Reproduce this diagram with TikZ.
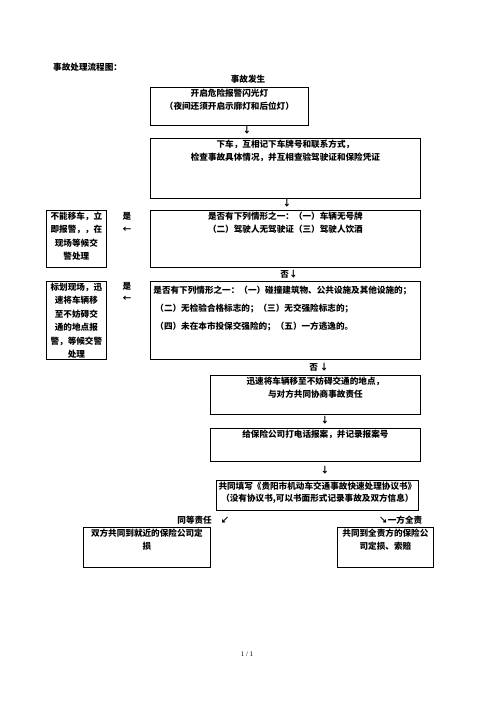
\documentclass[tikz,border=0pt]{standalone}
\usepackage{fontspec}
\setmainfont{Noto Sans CJK SC}
\newfontfamily\pagefont{Liberation Serif}
\usetikzlibrary{positioning}
\newcommand{\boxtext}[3]{\parbox[t][#2][t]{#1}{\centering\vspace*{1.5pt}#3}}
\newcommand{\boxleft}[3]{\parbox[t][#2][t]{#1}{\raggedright\vspace*{4.5pt}#3}}

\begin{document}
\begin{tikzpicture}[
  x=1pt, y=-1pt,
  font=\fontsize{8.6pt}{13.5pt}\selectfont\bfseries,
  box/.style={
    draw=black,
    line width=0.8pt,
    anchor=north west,
    inner sep=0pt
  },
  note/.style={inner sep=0pt, anchor=center},
  glyph/.style={inner sep=0pt, anchor=center}
]
\useasboundingbox (0,0) rectangle (496,702);

% Title and first step
\node[note, anchor=west] (title) at (53,67) {事故处理流程图：};
\node[note] (happen) at (248,79) {事故发生};
\node[box] (open) at (150,87) {\boxtext{158pt}{38pt}{开启危险报警闪光灯\\（夜间还须开启示廓灯和后位灯）}};
\node[glyph] (down1) at (247,130) {↓};
\node[box] (stepout) at (150,138) {\boxtext{270pt}{60pt}{下车，互相记下车牌号和联系方式，\\检查事故具体情况，并互相查验驾驶证和保险凭证}};
\node[glyph] (down2) at (287,203) {↓};

% First check
\node[box] (checkone) at (150,210) {\boxtext{270pt}{57pt}{是否有下列情形之一：（一）车辆无号牌\\（二）驾驶人无驾驶证（三）驾驶人饮酒}};
\node[box] (police) at (46,210) {\boxtext{60pt}{57pt}{不能移车，立\\即报警，，在\\现场等候交\\警处理}};
\node[glyph] (yesone) at (127,216) {是};
\node[glyph] (leftone) at (127,230) {←};
\node[glyph] (noone) at (289,274) {否↓};

% Second check
\node[box] (checktwo) at (150,281) {\boxleft{270pt}{78pt}{\fontsize{8.6pt}{18pt}\selectfont\hspace*{3pt}是否有下列情形之一：（一）碰撞建筑物、公共设施及其他设施的；\\\hspace*{5pt}（二）无检验合格标志的；（三）无交强险标志的；\\\hspace*{5pt}（四）未在本市投保交强险的；（五）一方逃逸的。}};
\node[box] (moveaway) at (46,281) {\boxtext{60pt}{78pt}{标划现场，迅\\速将车辆移\\至不妨碍交\\通的地点报\\警，等候交警\\处理}};
\node[glyph] (yestwo) at (127,286) {是};
\node[glyph] (lefttwo) at (127,299) {←};
\node[glyph] (notwo) at (319,367) {否\ ↓};

% Settle and report
\node[box] (movecar) at (210,375) {\boxtext{210pt}{39pt}{迅速将车辆移至不妨碍交通的地点，\\与对方共同协商事故责任}};
\node[glyph] (down3) at (325,420) {↓};
\node[box] (callins) at (210,428) {\boxtext{210pt}{33pt}{给保险公司打电话报案，并记录报案号}};
\node[glyph] (down4) at (325,470) {↓};
\node[box] (agree) at (216,480) {\boxtext{202pt}{30pt}{\fontsize{8.6pt}{12.5pt}\selectfont 共同填写《贵阳市机动车交通事故快速处理协议书》\\（没有协议书,可以书面形式记录事故及双方信息）}};

% Liability outcomes
\node[note, anchor=east] (equal) at (212,520) {同等责任};
\node[glyph] (downleft) at (225,520) {↙};
\node[note, anchor=west] (full) at (379,520) {↘一方全责};
\node[box] (equalbox) at (83,527) {\boxtext{127pt}{40pt}{双方共同到就近的保险公司定\\损}};
\node[box] (fullbox) at (337,527) {\boxtext{96pt}{40pt}{共同到全责方的保险公\\司定损、索赔}};

\node[note] (page) at (247,654) {\pagefont\mdseries\fontsize{7pt}{8pt}\selectfont 1 / 1};

\end{tikzpicture}
\end{document}
